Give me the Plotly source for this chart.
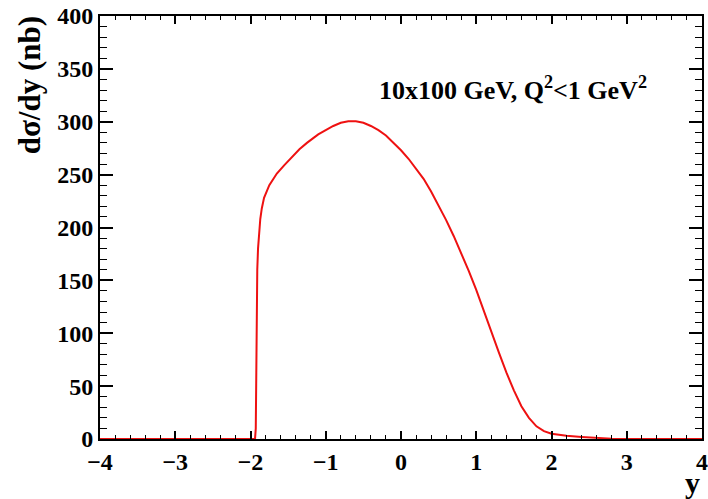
import plotly.graph_objects as go

# rapidity y and dsigma/dy (nb)
y_vals = [-4.0, -1.94, -1.93, -1.925, -1.92, -1.91, -1.90, -1.89, -1.87, -1.85, -1.82,
          -1.75, -1.65, -1.55, -1.45, -1.35, -1.25, -1.1, -1.0, -0.9, -0.8, -0.7, -0.6,
          -0.5, -0.4, -0.3, -0.2, -0.1, 0.0, 0.1, 0.2, 0.3, 0.4, 0.5, 0.6, 0.7, 0.8, 0.9,
          1.0, 1.1, 1.2, 1.3, 1.4, 1.5, 1.6, 1.7, 1.8, 1.9, 2.0, 2.1, 2.2, 2.4, 2.6, 2.8,
          3.0, 4.0]
dsig_vals = [0, 0, 10, 60, 120, 160, 180, 192, 208, 218, 228,
             240, 251, 259, 267, 274, 280, 288, 292, 296, 299, 300.5, 300.5,
             299, 296, 292, 287, 280, 273, 265, 256, 246, 234, 221, 207, 192, 176, 159,
             141, 122, 102, 82, 63, 46, 31, 20, 12, 7.5, 5, 3.8, 3, 2, 1, 0.3,
             0, 0]

x_ticks = [-4, -3, -2, -1, 0, 1, 2, 3, 4]
y_ticks = [0, 50, 100, 150, 200, 250, 300, 350, 400]

FONT = "Liberation Serif"

fig = go.Figure()
fig.add_trace(go.Scatter(x=y_vals, y=dsig_vals, mode="lines",
                         line=dict(color="#ee1111", width=2), showlegend=False))

fig.update_layout(
    width=708, height=499,
    margin=dict(l=100, r=6, t=16, b=60, autoexpand=False),
    paper_bgcolor="white", plot_bgcolor="white",
    font=dict(family=FONT, color="black"),
)
fig.update_xaxes(
    range=[-4, 4], tickvals=x_ticks, ticks="inside", ticklen=8, tickwidth=1.5,
    tickcolor="black", showline=True, linecolor="black", linewidth=2,
    mirror="allticks", showgrid=False, zeroline=False, automargin=False,
    tickfont=dict(family=FONT, size=24, weight="bold", color="black"),
    minor=dict(dtick=0.2, ticks="inside", ticklen=4, tickcolor="black", tickwidth=1, showgrid=False),
)
fig.update_yaxes(
    range=[0, 400], tickvals=y_ticks, ticks="inside", ticklen=13, tickwidth=1.5,
    tickcolor="black", showline=True, linecolor="black", linewidth=2,
    mirror="allticks", showgrid=False, zeroline=False, automargin=False,
    tickfont=dict(family=FONT, size=24, weight="bold", color="black"),
    minor=dict(dtick=10, ticks="inside", ticklen=7, tickcolor="black", tickwidth=1, showgrid=False),
)

fig.add_annotation(text="<b>dσ/dy (nb)</b>", textangle=-90, xref="paper", yref="paper",
                   x=-0.117, y=1.003, xanchor="center", yanchor="top", showarrow=False,
                   font=dict(family=FONT, size=31, color="black"))
fig.add_annotation(text="<b>y</b>", xref="paper", yref="paper",
                   x=1.0, y=-0.058, xanchor="right", yanchor="top", showarrow=False,
                   font=dict(family=FONT, size=30, color="black"))
fig.add_annotation(text="<b>10x100 GeV, Q<sup>2</sup>&lt;1 GeV<sup>2</sup></b>",
                   xref="paper", yref="paper", x=(377 - 100) / 602, y=1 - (88 - 16) / 423,
                   xanchor="left", yanchor="middle", showarrow=False,
                   font=dict(family=FONT, size=26, color="black"))

fig.write_html("out.html", config={"displayModeBar": False},
               post_script="document.body.style.margin='0px';")
